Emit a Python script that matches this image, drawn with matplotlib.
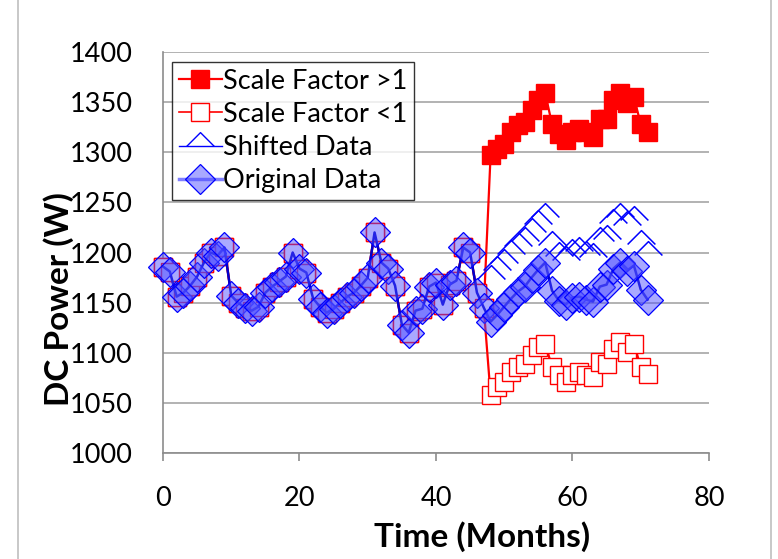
import matplotlib.pyplot as plt
from matplotlib.lines import Line2D
from matplotlib.path import Path
from matplotlib.ticker import MultipleLocator

plt.rcParams['font.family'] = ['Lato', 'DejaVu Sans']

# monthly DC power, months 0-71
months = list(range(72))
original = [
    1186, 1181, 1156, 1160, 1167, 1176, 1190, 1200, 1197, 1205,
    1157, 1150, 1145, 1142, 1146, 1160, 1166, 1171, 1176, 1200,
    1184, 1180, 1154, 1146, 1140, 1144, 1150, 1156, 1160, 1167,
    1175, 1220, 1190, 1184, 1167, 1128, 1120, 1142, 1144, 1166,
    1170, 1148, 1168, 1172, 1205, 1200, 1160, 1145,
    1131, 1138, 1146, 1154, 1161, 1166, 1175, 1183, 1190, 1162,
    1152, 1148, 1155, 1156, 1153, 1151, 1166, 1168, 1184, 1190,
    1182, 1187, 1163, 1153,
]

# altered data from month 48 on
tail_months = list(range(48, 72))
scale_up = [
    1297, 1303, 1308, 1320, 1327, 1330, 1342, 1352, 1359, 1328,
    1318, 1312, 1320, 1323, 1320, 1315, 1333, 1333, 1352, 1359,
    1349, 1355, 1328, 1320,
]
scale_down = [
    1058, 1066, 1071, 1081, 1086, 1089, 1098, 1106, 1109, 1086,
    1078, 1071, 1078, 1081, 1078, 1076, 1091, 1089, 1104, 1111,
    1101, 1109, 1086, 1079,
]
shifted = [
    1174, 1183, 1190, 1199, 1206, 1211, 1220, 1228, 1235, 1207,
    1197, 1193, 1200, 1201, 1198, 1196, 1211, 1213, 1229, 1235,
    1227, 1232, 1208, 1198,
]

RED = '#FF0000'
BLUE = '#0000FF'
DIAMOND_FACE = (0.3, 0.3, 1.0, 0.48)
SQ = 12.5
DM = 15
CH = 20

# open chevron: upper half of a diamond outline
chevron = Path([(-1, 0), (0, 1), (1, 0)], [Path.MOVETO, Path.LINETO, Path.LINETO])

fig = plt.figure(figsize=(7.78, 5.59), dpi=100)
ax = fig.add_axes([0.2095, 0.1896, 0.7018, 0.7174])

# red series share the original values before the change
ax.plot(months[:48] + tail_months, original[:48] + scale_up, color=RED, lw=1.6,
        marker='s', ms=SQ, mfc=RED, mec=RED, mew=1.0, zorder=2, clip_on=False)
ax.plot(months[:48] + tail_months, original[:48] + scale_down, color=RED, lw=1.6,
        marker='s', ms=SQ, mfc='white', mec=RED, mew=1.0, zorder=3, clip_on=False)
ax.plot(tail_months, shifted, linestyle='none', marker=chevron, ms=CH,
        mfc='none', mec=BLUE, mew=1.1, zorder=4, clip_on=False)
ax.plot(months, original, color='#0000CC', lw=1.8, marker='D', ms=DM,
        mfc=DIAMOND_FACE, mec=BLUE, mew=0.9, zorder=5, clip_on=False)

ax.set_xlim(0, 80)
ax.set_ylim(1000, 1400)
ax.xaxis.set_major_locator(MultipleLocator(20))
ax.yaxis.set_major_locator(MultipleLocator(50))

ax.grid(axis='y', color='#A6A6A6', lw=1.2)
ax.set_axisbelow(True)
for side in ['top', 'right']:
    ax.spines[side].set_visible(False)
for side in ['left', 'bottom']:
    ax.spines[side].set_color('#8C8C8C')
    ax.spines[side].set_linewidth(1.2)

ax.tick_params(axis='x', length=6, width=1.2, color='#8C8C8C', pad=18, labelsize=19.5)
ax.tick_params(axis='y', length=0, pad=22, labelsize=19.5)

ax.set_xlabel('Time (Months)', fontsize=24, fontweight='bold')
ax.set_ylabel('DC Power (W)', fontsize=24, fontweight='bold')
ax.xaxis.set_label_coords(0.584, -0.209)
ax.yaxis.set_label_coords(-0.192, 0.384)
ax.xaxis.label.set_va('center')
ax.yaxis.label.set_va('center')

handles = [
    Line2D([], [], color=RED, lw=1.6, marker='s', ms=SQ, mfc=RED, mec=RED),
    Line2D([], [], color=RED, lw=1.2, marker='s', ms=SQ, mfc='white', mec=RED),
    Line2D([], [], color=BLUE, lw=1.0, marker=chevron, ms=CH, mfc='none', mec=BLUE),
    Line2D([], [], color='#8080FF', lw=2.5, marker='D', ms=DM, mfc=DIAMOND_FACE, mec=BLUE, mew=0.9),
]
labels = ['Scale Factor >1', 'Scale Factor <1', 'Shifted Data', 'Original Data']
leg = ax.legend(handles, labels, loc='upper left', bbox_to_anchor=(0.0165, 0.975),
                fontsize=19.5, frameon=True, fancybox=False, edgecolor='black',
                handlelength=1.6, handletextpad=0.05, labelspacing=0.3,
                borderpad=0.25, borderaxespad=0)
leg.get_frame().set_linewidth(1.0)

# chart area border
for xpos in [18 / 778, 771 / 778]:
    fig.add_artist(Line2D([xpos, xpos], [0, 1], color='#BFBFBF', lw=1.2))

fig.savefig('out.png', dpi=100)
